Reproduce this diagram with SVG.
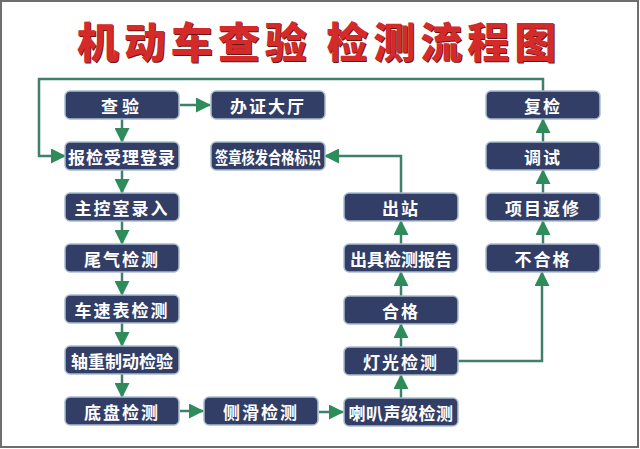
<svg xmlns="http://www.w3.org/2000/svg" width="640" height="449" viewBox="0 0 640 449">
<defs>
<marker id="ah" markerUnits="userSpaceOnUse" markerWidth="15" markerHeight="15" viewBox="0 0 15 15" refX="14" refY="7.5" orient="auto">
<path d="M0,0 L15,7.5 L0,15 Z" fill="#2e8b5a"/>
</marker>
<style>
.bx{fill:#323e66;stroke:#a9bccf;stroke-width:1.5}
.t{font-family:"Noto Sans CJK SC","Noto Sans",sans-serif;font-weight:700;font-size:17px;fill:#ffffff;text-anchor:middle;dominant-baseline:central}
.c{fill:none;stroke:#3f7f6c;stroke-width:2.5}
.a{marker-end:url(#ah)}
.title{font-family:"Noto Sans CJK SC","Noto Sans",sans-serif;font-weight:900;font-size:42px;text-anchor:middle}
</style>
</defs>
<rect x="0" y="0" width="640" height="449" fill="#ffffff"/>
<rect x="1" y="1" width="637" height="446" fill="none" stroke="#6e6e6e" stroke-width="2"/>
<g id="title">
<text class="title" x="320" y="59" fill="#6b1515" letter-spacing="5">机动车查验 检测流程图</text>
<text class="title" x="319" y="58" fill="#d42a2a" letter-spacing="5">机动车查验 检测流程图</text>
</g>
<g id="connectors">
<line class="c a" x1="122" y1="119" x2="122" y2="142"/>
<line class="c a" x1="122" y1="170" x2="122" y2="193"/>
<line class="c a" x1="122" y1="221" x2="122" y2="244"/>
<line class="c a" x1="122" y1="272" x2="122" y2="295"/>
<line class="c a" x1="122" y1="323" x2="122" y2="346"/>
<line class="c a" x1="122" y1="374" x2="122" y2="397"/>
<line class="c a" x1="180" y1="105" x2="210" y2="105"/>
<line class="c a" x1="180" y1="411" x2="203" y2="411"/>
<line class="c a" x1="319" y1="412" x2="343" y2="412"/>
<line class="c a" x1="401" y1="398" x2="401" y2="375"/>
<line class="c a" x1="401" y1="347" x2="401" y2="324"/>
<line class="c a" x1="401" y1="296" x2="401" y2="272"/>
<line class="c a" x1="401" y1="244" x2="401" y2="221"/>
<line class="c a" x1="543" y1="244" x2="543" y2="221"/>
<line class="c a" x1="543" y1="193" x2="543" y2="170"/>
<line class="c a" x1="543" y1="142" x2="543" y2="119"/>
<path class="c a" d="M458,361 H542 V272"/>
<path class="c a" d="M401,193 V156 H325"/>
<path class="c a" d="M543,91 V79 H39 V156 H65"/>
</g>
<g id="n-chayan"><rect class="bx" x="65" y="91" width="114" height="28" rx="5"/><text class="t" x="122" y="105" letter-spacing="4">查验</text></g>
<g id="n-baojian"><rect class="bx" x="65" y="142" width="114" height="28" rx="5"/><text class="t" x="122" y="156" letter-spacing="1">报检受理登录</text></g>
<g id="n-zhukong"><rect class="bx" x="65" y="193" width="114" height="28" rx="5"/><text class="t" x="122" y="207" letter-spacing="2">主控室录入</text></g>
<g id="n-weiqi"><rect class="bx" x="65" y="244" width="114" height="28" rx="5"/><text class="t" x="122" y="258" letter-spacing="2">尾气检测</text></g>
<g id="n-chesu"><rect class="bx" x="65" y="295" width="114" height="28" rx="5"/><text class="t" x="122" y="309" letter-spacing="2">车速表检测</text></g>
<g id="n-zhouzhong"><rect class="bx" x="65" y="346" width="114" height="28" rx="5"/><text class="t" x="122" y="360">轴重制动检验</text></g>
<g id="n-dipan"><rect class="bx" x="65" y="397" width="114" height="28" rx="5"/><text class="t" x="122" y="411" letter-spacing="2">底盘检测</text></g>
<g id="n-banzheng"><rect class="bx" x="211" y="91" width="114" height="28" rx="5"/><text class="t" x="268" y="105" letter-spacing="2">办证大厅</text></g>
<g id="n-qianzhang"><rect class="bx" x="211" y="142" width="114" height="28" rx="5"/><text class="t" x="268" y="156" textLength="106" lengthAdjust="spacingAndGlyphs">签章核发合格标识</text></g>
<g id="n-cehua"><rect class="bx" x="204" y="397" width="114" height="28" rx="5"/><text class="t" x="261" y="411" letter-spacing="2">侧滑检测</text></g>
<g id="n-chuzhan"><rect class="bx" x="344" y="193" width="114" height="28" rx="5"/><text class="t" x="401" y="207" letter-spacing="2">出站</text></g>
<g id="n-baogao"><rect class="bx" x="344" y="244" width="114" height="28" rx="5"/><text class="t" x="401" y="258">出具检测报告</text></g>
<g id="n-hege"><rect class="bx" x="344" y="296" width="114" height="28" rx="5"/><text class="t" x="401" y="310" letter-spacing="2">合格</text></g>
<g id="n-dengguang"><rect class="bx" x="344" y="347" width="114" height="28" rx="5"/><text class="t" x="401" y="361" letter-spacing="2">灯光检测</text></g>
<g id="n-laba"><rect class="bx" x="344" y="398" width="114" height="28" rx="5"/><text class="t" x="401" y="412" letter-spacing="0.5">喇叭声级检测</text></g>
<g id="n-fujian"><rect class="bx" x="486" y="91" width="114" height="28" rx="5"/><text class="t" x="543" y="105" letter-spacing="2">复检</text></g>
<g id="n-tiaoshi"><rect class="bx" x="486" y="142" width="114" height="28" rx="5"/><text class="t" x="543" y="156" letter-spacing="2">调试</text></g>
<g id="n-fanxiu"><rect class="bx" x="486" y="193" width="114" height="28" rx="5"/><text class="t" x="543" y="207" letter-spacing="2">项目返修</text></g>
<g id="n-buhege"><rect class="bx" x="486" y="244" width="114" height="28" rx="5"/><text class="t" x="543" y="258" letter-spacing="2">不合格</text></g>
</svg>
